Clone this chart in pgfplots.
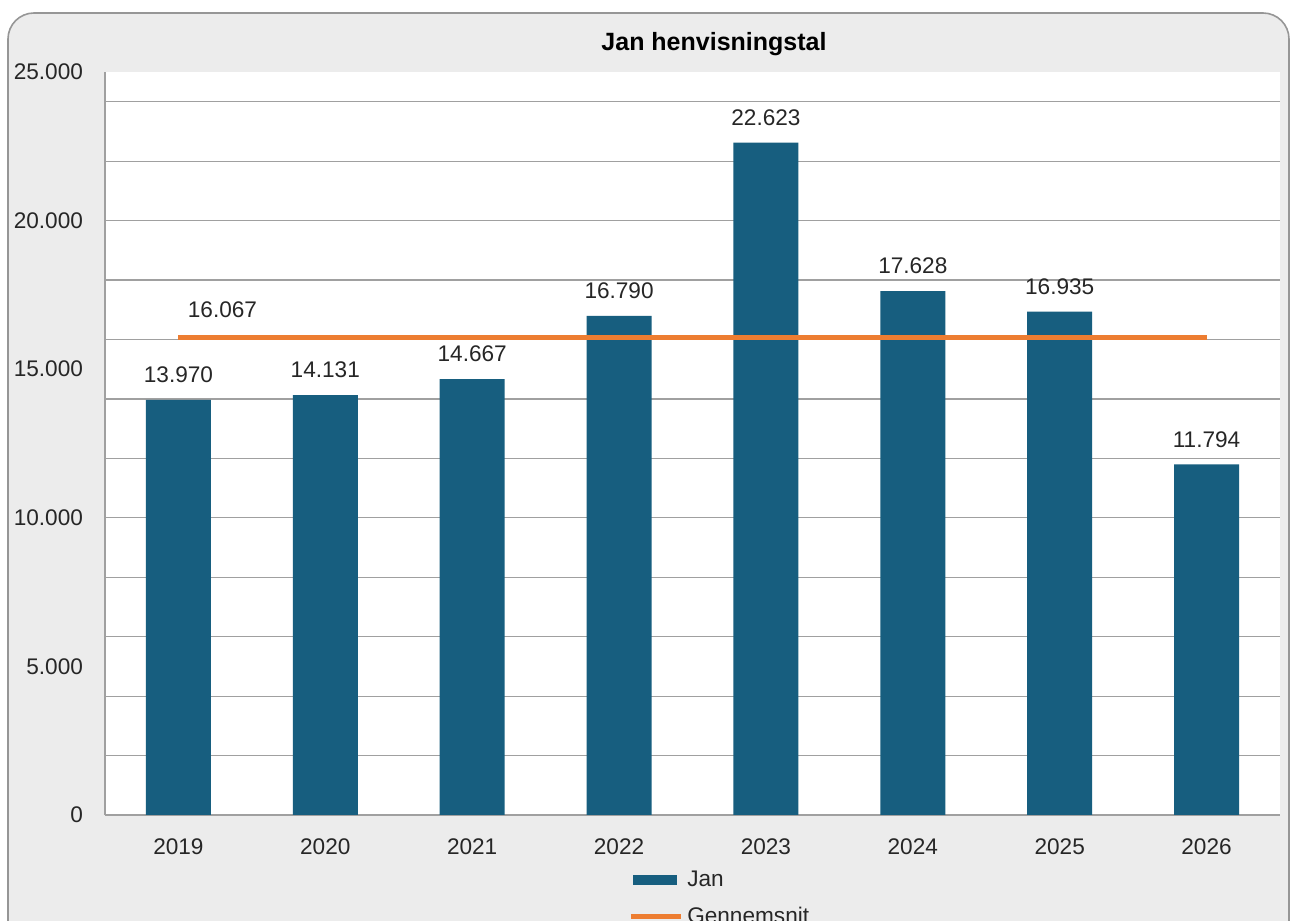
\documentclass[border=0pt]{standalone}
\usepackage{pgfplots}
\pgfplotsset{compat=1.18}
\usepackage{fontspec}
\setmainfont{Liberation Sans}
\definecolor{barblue}{RGB}{23,94,127}
\definecolor{avgorange}{RGB}{237,125,49}
\definecolor{gridgray}{RGB}{160,160,160}
\definecolor{bggray}{RGB}{236,236,236}
\definecolor{framegray}{RGB}{150,150,150}
\definecolor{txt}{RGB}{38,38,38}
\begin{document}
\begin{tikzpicture}
\useasboundingbox (-52.5pt,-53pt) rectangle (593.5pt,407.5pt);
\clip (-52.5pt,-53pt) rectangle (593.5pt,407.5pt);
\draw[framegray, line width=0.8pt, fill=bggray, rounded corners=13pt] (-48.5pt,-90pt) rectangle (592pt,401pt);
\begin{axis}[
  scale only axis,
  width=587.5pt, height=371.5pt,
  xmin=-0.5, xmax=7.5,
  ymin=0, ymax=25000,
  axis background/.style={fill=white},
  axis x line=bottom, axis y line=left,
  axis line style={gridgray, line width=0.6pt, -},
  xtick={0,...,7},
  xticklabels={2019,2020,2021,2022,2023,2024,2025,2026},
  ytick={0,5000,...,25000},
  minor ytick={2000,4000,...,24000},
  yminorgrids=true,
  minor grid style={gridgray, line width=0.6pt},
  major tick length=0pt, minor tick length=0pt,
  scaled y ticks=false,
  yticklabel={\pgfmathprintnumber[1000 sep={.}, assume math mode=true]{\tick}},
  tick label style={font=\fontsize{11.3}{13}\selectfont, text=txt},
  yticklabel style={xshift=-7.5pt},
  xticklabel style={yshift=-8.5pt},
  legend style={at={(0.445,-0.069)}, anchor=north west, draw=none, fill=none,
    inner sep=0pt, row sep=5pt, font=\fontsize{11.3}{13}\selectfont, text=txt},
  legend cell align=left,
]
\addplot[ybar, bar width=32.5pt, fill=barblue, draw=none,
  nodes near coords={\pgfmathprintnumber[1000 sep={.}, assume math mode=true]{\pgfplotspointmeta}},
  every node near coord/.append style={font=\fontsize{11.3}{13}\selectfont, text=txt, yshift=5pt},
  legend image code/.code={\fill[barblue] (0pt,-2.5pt) rectangle (22pt,2.5pt);}]
  coordinates {(0,13970) (1,14131) (2,14667) (3,16790) (4,22623) (5,17628) (6,16935) (7,11794)};
\addlegendentry{Jan}
\addplot[avgorange, line width=2.5pt, mark=none,
  legend image code/.code={\draw[avgorange, line width=2.5pt] (-1pt,0pt) -- (24pt,0pt);}]
  coordinates {(0,16067) (7,16067)};
\addlegendentry{Gennemsnit}
\node[anchor=south west, font=\fontsize{11.3}{13}\selectfont, text=txt, xshift=1.2pt, yshift=6.5pt] at (axis cs:0,16067) {16.067};
\end{axis}
\node[font=\bfseries\fontsize{12.5}{14}\selectfont, text=black] at (304.5pt,385.5pt) {Jan henvisningstal};
\end{tikzpicture}
\end{document}
